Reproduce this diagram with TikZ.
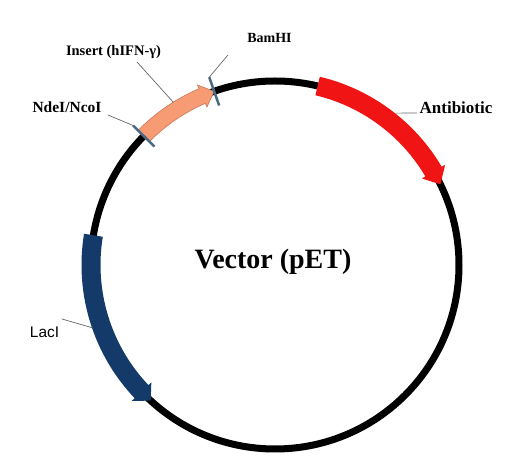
\documentclass[tikz,border=0pt]{standalone}
\usepackage{fontspec}
\newfontfamily\tnr{Liberation Serif}
\newfontfamily\arl{Liberation Sans}
\definecolor{abred}{RGB}{240,20,20}
\definecolor{lacblue}{RGB}{20,58,105}
\definecolor{insorange}{RGB}{246,155,115}
\definecolor{insedge}{RGB}{200,120,90}
\definecolor{tickcol}{RGB}{75,105,130}
\newcommand\plasarrow[6]{%
  \pgfmathsetmacro\plRo{184+#5}\pgfmathsetmacro\plRi{184-#5}%
  \pgfmathsetmacro\plHo{184+#6}\pgfmathsetmacro\plHi{184-#6}%
  \path[#1] (#2:\plRo pt) arc[start angle=#2,end angle=#3,radius=\plRo pt]
    -- (#3:\plHo pt) -- (#4:184pt) -- (#3:\plHi pt) -- (#3:\plRi pt)
    arc[start angle=#3,end angle=#2,radius=\plRi pt] -- cycle;}
\begin{document}
\begin{tikzpicture}[
  lbl/.style={inner sep=0pt, font=\tnr\bfseries},
  leader/.style={draw=gray!80!black, line width=0.7pt},
  sitetick/.style={draw=tickcol, line width=2.5pt},
]
\useasboundingbox[fill=white] (-275pt,-208pt) rectangle (234pt,265pt);
\coordinate (c) at (0,0);
% backbone
\draw[line width=7pt] (c) circle[radius=184pt];
% genes
\plasarrow{fill=abred}{76.6}{30.5}{26}{9.5}{13.5}
\plasarrow{fill=lacblue}{170.7}{223.5}{227.5}{9.5}{13.5}
\plasarrow{fill=insorange, draw=insedge, line width=0.6pt}{135.5}{113.3}{109.3}{8}{12}
% restriction sites
\coordinate (nde1) at (135.5:169pt); \coordinate (nde2) at (135.5:199pt);
\coordinate (bam1) at (109.3:169pt); \coordinate (bam2) at (109.3:199pt);
\draw[sitetick] (nde1) -- (nde2);
\draw[sitetick] (bam1) -- (bam2);
% labels
\node[lbl, font=\tnr\bfseries\fontsize{14.5}{16}\selectfont] (ins) at (-161.5pt,213pt) {Insert (hIFN-γ)};
\node[lbl, font=\tnr\bfseries\fontsize{14}{16}\selectfont] (bam) at (-5.5pt,227pt) {BamHI};
\node[lbl, font=\tnr\bfseries\fontsize{15.5}{17}\selectfont] (nde) at (-208pt,158pt) {NdeI/NcoI};
\node[lbl, font=\tnr\bfseries\fontsize{17}{19}\selectfont] (abl) at (181pt,157pt) {Antibiotic};
\node[lbl, font=\arl\fontsize{15.4}{17}\selectfont] (lac) at (-230.5pt,-67.5pt) {LacI};
\node[lbl, font=\tnr\bfseries\fontsize{28}{32}\selectfont] (vec) at (-2pt,3pt) {Vector (pET)};
% leader lines
\coordinate (insA) at (-138pt,203pt); \coordinate (insB) at (122:192pt);
\coordinate (bamA) at (-47pt,210pt);
\coordinate (ndeA) at (-167pt,150pt);
\coordinate (ablA) at (51.7:193.5pt); \coordinate (ablB) at (142pt,152pt);
\coordinate (lacA) at (-213pt,-54pt); \coordinate (lacB) at (199:193pt);
\draw[leader] (insA) -- (insB);
\draw[leader] (bamA) -- (bam2);
\draw[leader] (ndeA) -- (nde2);
\draw[leader] (ablA) -- (ablB);
\draw[leader] (lacA) -- (lacB);
\end{tikzpicture}
\end{document}
